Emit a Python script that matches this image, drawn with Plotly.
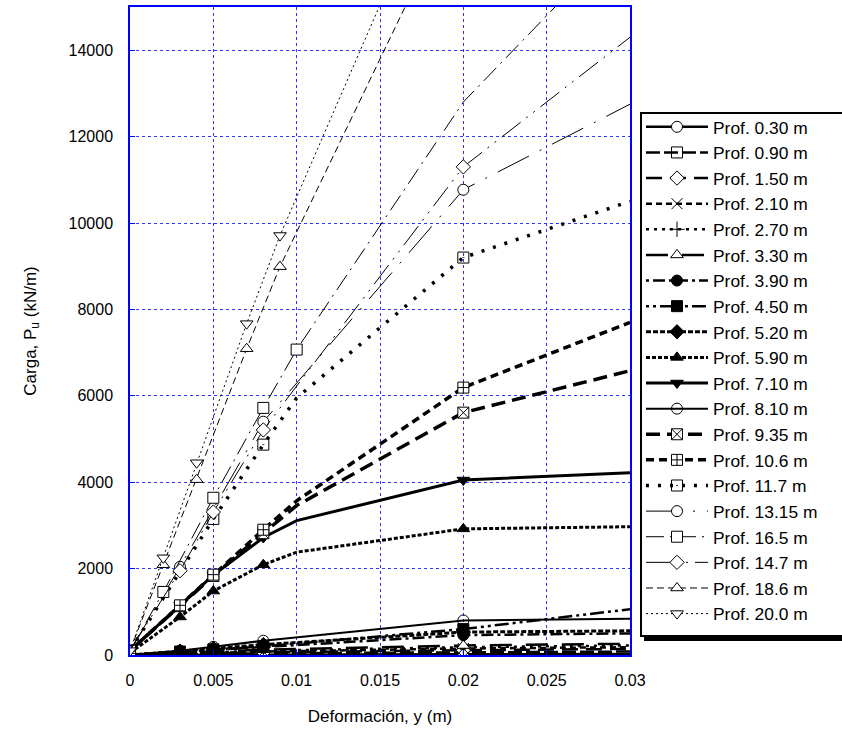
import plotly.graph_objects as go

# ---------------- data ----------------
LABELS = ["Prof. 0.30 m", "Prof. 0.90 m", "Prof. 1.50 m", "Prof. 2.10 m", "Prof. 2.70 m",
          "Prof. 3.30 m", "Prof. 3.90 m", "Prof. 4.50 m", "Prof. 5.20 m", "Prof. 5.90 m",
          "Prof. 7.10 m", "Prof. 8.10 m", "Prof. 9.35 m", "Prof. 10.6 m", "Prof. 11.7 m",
          "Prof. 13.15 m", "Prof. 16.5 m", "Prof. 14.7 m", "Prof. 18.6 m", "Prof. 20.0 m"]

X_SHALLOW = [0, 0.003, 0.005, 0.008, 0.02, 0.03]
X_MID = [0, 0.003, 0.005, 0.008, 0.01, 0.02, 0.03]
X_117 = [0, 0.005, 0.008, 0.01, 0.02, 0.03]
X_1315 = [0, 0.003, 0.008, 0.02, 0.03]
X_165 = [0, 0.002, 0.005, 0.008, 0.01, 0.02, 0.03]
X_147 = [0, 0.003, 0.005, 0.008, 0.02, 0.03]
X_DEEP = [0, 0.002, 0.004, 0.007, 0.009, 0.02, 0.03]

P_030 = [0, 5, 8, 12, 18, 22]
P_090 = [0, 15, 25, 40, 60, 80]
P_150 = [0, 25, 40, 60, 110, 140]
P_210 = [0, 35, 55, 80, 150, 180]
P_270 = [0, 45, 65, 100, 180, 220]
P_330 = [0, 55, 80, 120, 220, 260]
P_390 = [0, 70, 110, 170, 460, 500]
P_450 = [0, 80, 130, 200, 600, 1060]
P_520 = [0, 90, 150, 240, 530, 560]
P_590 = [50, 880, 1480, 2090, 2380, 2920, 2970]
P_710 = [100, 1150, 1850, 2720, 3110, 4050, 4220]
P_810 = [0, 100, 190, 330, 800, 840]
P_935 = [100, 1130, 1830, 2820, 3460, 5610, 6580]
P_1060 = [100, 1150, 1860, 2900, 3570, 6190, 7700]
P_1170 = [100, 3150, 4870, 5950, 9200, 10500]
P_1315 = [100, 2040, 5400, 10770, 12750]
P_165 = [100, 1460, 3640, 5720, 7070, 12800, 16800]
P_147 = [100, 1950, 3310, 5210, 11300, 14300]
P_186 = [100, 2090, 4060, 7090, 8990, 17800, 25000]
P_200 = [100, 2250, 4450, 7670, 9710, 19500, 27000]

SERIES_X = [X_SHALLOW] * 9 + [X_MID, X_MID, X_SHALLOW, X_MID, X_MID, X_117,
                              X_1315, X_165, X_147, X_DEEP, X_DEEP]
SERIES_Y = [P_030, P_090, P_150, P_210, P_270, P_330, P_390, P_450, P_520, P_590,
            P_710, P_810, P_935, P_1060, P_1170, P_1315, P_165, P_147, P_186, P_200]

# x positions where a symbol is drawn on each curve
MARK_X = [
    [0.003, 0.005, 0.008, 0.02]] * 9 + [
    [0.003, 0.005, 0.008, 0.02],
    [0.003, 0.005, 0.008, 0.02],
    [0.003, 0.005, 0.008, 0.02],
    [0, 0.003, 0.005, 0.008, 0.02],
    [0, 0.003, 0.005, 0.008, 0.02],
    [0.005, 0.008, 0.02],
    [0.003, 0.008, 0.02],
    [0, 0.002, 0.005, 0.008, 0.01],
    [0.003, 0.005, 0.008, 0.02],
    [0, 0.002, 0.004, 0.007, 0.009],
    [0, 0.002, 0.004, 0.007, 0.009],
]

X_TICKS = [0, 0.005, 0.01, 0.015, 0.02, 0.025, 0.03]
X_TICK_TEXT = ["0", "0.005", "0.01", "0.015", "0.02", "0.025", "0.03"]
Y_TICKS = [0, 2000, 4000, 6000, 8000, 10000, 12000, 14000]
Y_TICK_TEXT = ["0", "2000", "4000", "6000", "8000", "10000", "12000", "14000"]

# ---------------- styles ----------------
STYLES = [
    ("solid", 2.5, "circle", "white"),
    ("14px,4px", 2.5, "square-open", "black"),
    ("16px,8px", 2.5, "diamond", "white"),
    ("6px,4px", 2.5, "x-thin-open", "black"),
    ("3px,5px", 2.5, "cross-thin-open", "black"),
    ("22px,14px", 2.5, "triangle-up", "white"),
    ("3px,4px,12px,4px", 2.5, "circle", "black"),
    ("3px,4px,3px,4px,14px,4px", 2.5, "square", "black"),
    ("5px,2px", 3, "diamond", "black"),
    ("4px,2px", 3, "triangle-up", "black"),
    ("solid", 3, "triangle-down", "black"),
    ("solid", 2, "circle-open-dot", "black"),
    ("14px,7px", 3.5, "square-x", "white"),
    ("8px,5px", 3.5, "square-cross", "white"),
    ("3px,9px", 3.5, "square-open-dot", "black"),
    ("35px,12px,2px,12px", 1, "circle", "white"),
    ("18px,6px,2px,6px", 1, "square", "white"),
    ("24px,7px,2px,7px,2px,7px", 1, "diamond", "white"),
    ("7px,4px", 1, "triangle-up", "white"),
    ("2px,3px", 1, "triangle-down", "white"),
]

FONT = "Liberation Sans, Arial, sans-serif"
fig = go.Figure()

for i, (lab, xs, ys, mk, st) in enumerate(zip(LABELS, SERIES_X, SERIES_Y, MARK_X, STYLES)):
    dash, lw, sym, fill = st
    g = "g%d" % i
    fig.add_trace(go.Scatter(x=xs, y=ys, mode="lines", legendgroup=g, showlegend=False,
                             line=dict(color="black", width=lw, dash=dash),
                             cliponaxis=True, hoverinfo="skip"))
    mx = [x for x in xs if x in mk]
    my = [y for x, y in zip(xs, ys) if x in mk]
    mkr = dict(symbol=sym, size=11, color=fill, line=dict(color="black", width=1))
    fig.add_trace(go.Scatter(x=mx, y=my, mode="markers", legendgroup=g, showlegend=False,
                             marker=mkr, cliponaxis=True, hoverinfo="skip"))
    fig.add_trace(go.Scatter(x=[None], y=[None], mode="lines+markers", name=lab,
                             legendgroup=g, showlegend=True,
                             line=dict(color="black", width=lw, dash=dash),
                             marker=mkr))

axis_common = dict(showline=True, linecolor="#0000ff", linewidth=1.5, mirror=True,
                   showgrid=True, gridcolor="#3232ff", griddash="3px,3px", gridwidth=1,
                   zeroline=False, ticks="inside", ticklen=5, tickcolor="#0000ff",
                   tickfont=dict(family=FONT, size=16, color="black"))

fig.update_xaxes(range=[0, 0.03], tickvals=X_TICKS, ticktext=X_TICK_TEXT,
                 title=dict(text="Deformación, y (m)", font=dict(family=FONT, size=17, color="black"),
                            standoff=22),
                 ticklabelstandoff=10, **axis_common)
fig.update_yaxes(range=[0, 15000], tickvals=Y_TICKS, ticktext=Y_TICK_TEXT,
                 title=dict(text="Carga, P<sub>u</sub> (kN/m)", font=dict(family=FONT, size=17, color="black"),
                            standoff=28),
                 ticklabelstandoff=12, **axis_common)


def px_x(p):
    return (p - 130) / 500.0


def px_y(p):
    return (655 - p) / 648.0


# legend frame with drop shadow, drawn as shapes under the legend entries
fig.add_shape(type="rect", xref="paper", yref="paper", layer="above",
              x0=px_x(644), x1=px_x(860), y0=px_y(641), y1=px_y(116),
              fillcolor="black", line=dict(width=0))
fig.add_shape(type="rect", xref="paper", yref="paper", layer="above",
              x0=px_x(641), x1=px_x(860), y0=px_y(636), y1=px_y(113),
              fillcolor="white", line=dict(color="black", width=2))

fig.update_layout(
    width=842, height=731,
    margin=dict(l=130, r=212, t=7, b=76, autoexpand=False),
    paper_bgcolor="white", plot_bgcolor="white",
    font=dict(family=FONT, size=16, color="black"),
    legend=dict(x=px_x(641), y=px_y(109), xanchor="left", yanchor="top",
                bgcolor="rgba(0,0,0,0)", borderwidth=0,
                font=dict(family=FONT, size=17.4, color="black"),
                itemwidth=62, tracegroupgap=0, traceorder="normal"),
)

fig.write_html("out.html")
